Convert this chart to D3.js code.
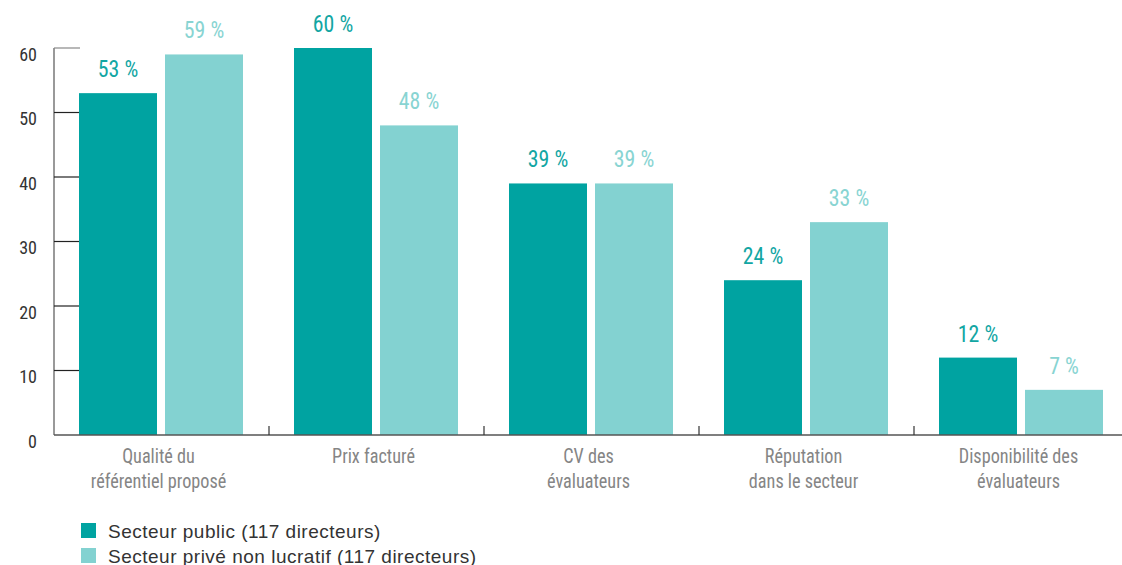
<!DOCTYPE html>
<html>
<head>
<meta charset="utf-8">
<script src="https://cdn.jsdelivr.net/npm/d3@7"></script>
<style>
  html, body { margin: 0; padding: 0; background: #fff; }
  svg { display: block; }
  .narrow { font-family: "Liberation Sans Narrow", "Roboto Condensed", "Liberation Sans", sans-serif; }
</style>
</head>
<body>
<svg id="chart" width="1122" height="565"></svg>
<script>
// Categories (two lines each) and the two series, in percent
const categories = [
  ["Qualité du", "référentiel proposé"],
  ["Prix facturé"],
  ["CV des", "évaluateurs"],
  ["Réputation", "dans le secteur"],
  ["Disponibilité des", "évaluateurs"]
];
const seriesNames = ["Secteur public (117 directeurs)", "Secteur privé non lucratif (117 directeurs)"];
const publicValues = [53, 60, 39, 24, 12];
const priveValues = [59, 48, 39, 33, 7];
const yTicks = [0, 10, 20, 30, 40, 50, 60];

const colors = ["#00a3a1", "#83d2d1"];
const labelColors = ["#12a6a3", "#88d4d2"];

const svg = d3.select("#chart");
const catKeys = categories.map(c => c.join(" "));
const seriesValues = [publicValues, priveValues];

const x0 = d3.scaleBand().domain(catKeys).range([54, 1129]).paddingInner(0).paddingOuter(0);
const x1 = d3.scaleBand().domain([0, 1]).range([25, 189]).paddingInner(0.093).paddingOuter(0);
const y = d3.scaleLinear().domain([0, 60]).range([435, 48]);

// Y axis: vertical line plus short ticks pointing right
const gy = svg.append("g");
gy.append("line")
  .attr("x1", 54).attr("x2", 54)
  .attr("y1", y(60)).attr("y2", y(0))
  .attr("stroke", "#777").attr("stroke-width", 1.5);
gy.selectAll("line.tick").data(yTicks.filter(t => t > 0)).join("line")
  .attr("class", "tick")
  .attr("x1", 54).attr("x2", 80)
  .attr("y1", d => y(d)).attr("y2", d => y(d))
  .attr("stroke", d => d === 60 ? "#888" : "#222").attr("stroke-width", 1.2);
gy.selectAll("text").data(yTicks).join("text")
  .attr("class", "narrow")
  .attr("x", 37).attr("y", d => y(d) + 12.5)
  .attr("text-anchor", "end")
  .attr("font-size", 18).attr("fill", "#333")
  .text(d => d);

// Bars
const groups = svg.append("g").selectAll("g").data(catKeys).join("g")
  .attr("transform", d => `translate(${x0(d)},0)`);

groups.selectAll("rect").data((d, i) => [0, 1].map(s => ({ s, v: seriesValues[s][i] }))).join("rect")
  .attr("x", d => x1(d.s))
  .attr("width", x1.bandwidth())
  .attr("y", d => y(d.v))
  .attr("height", d => y(0) - y(d.v))
  .attr("fill", d => colors[d.s]);

groups.selectAll("text.val").data((d, i) => [0, 1].map(s => ({ s, v: seriesValues[s][i] }))).join("text")
  .attr("class", "val narrow")
  .attr("transform", d => `translate(${x1(d.s) + x1.bandwidth() / 2},${y(d.v) - 16}) scale(0.95,1)`)
  .attr("text-anchor", "middle")
  .attr("font-size", 23)
  .attr("fill", d => labelColors[d.s])
  .text(d => d.v + " %");

// Bottom axis with ticks between categories
const gx = svg.append("g");
gx.append("line")
  .attr("x1", 54).attr("x2", 1122)
  .attr("y1", y(0)).attr("y2", y(0))
  .attr("stroke", "#555").attr("stroke-width", 1.5);
gx.selectAll("line.sep").data(catKeys.slice(1)).join("line")
  .attr("class", "sep")
  .attr("x1", d => x0(d)).attr("x2", d => x0(d))
  .attr("y1", y(0) - 9).attr("y2", y(0))
  .attr("stroke", "#333").attr("stroke-width", 1.2);

const catText = gx.selectAll("text").data(categories).join("text")
  .attr("class", "narrow")
  .attr("transform", (d, i) => `translate(${x0(catKeys[i]) + x0.bandwidth() / 2 - 3},463) scale(0.91,1)`)
  .attr("text-anchor", "middle")
  .attr("font-size", 20)
  .attr("fill", "#858585");
catText.selectAll("tspan").data(d => d).join("tspan")
  .attr("x", 0)
  .attr("dy", (d, i) => i === 0 ? 0 : 25)
  .text(d => d);

// Legend
const legend = svg.append("g").selectAll("g").data(seriesNames).join("g")
  .attr("transform", (d, i) => `translate(81,${523 + i * 25})`);
legend.append("rect")
  .attr("width", 15).attr("height", 15)
  .attr("fill", (d, i) => colors[i]);
legend.append("text")
  .attr("x", 27).attr("y", 14.5)
  .attr("font-family", "'Liberation Sans', Arial, sans-serif")
  .attr("font-size", 19)
  .attr("letter-spacing", 0.5)
  .attr("fill", "#333")
  .text(d => d);
</script>
</body>
</html>
